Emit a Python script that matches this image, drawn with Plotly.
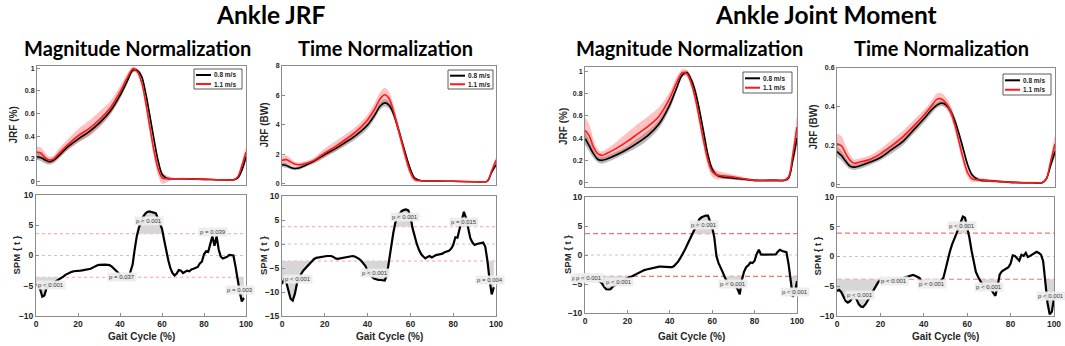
import plotly.graph_objects as go

W, H = 1065, 346

# ---------------- data ----------------
X_TOP = [0, 2, 4, 6, 8, 10, 15, 20, 25, 30, 35, 40, 43, 46, 48, 50, 52, 54, 56, 58,
         60, 62, 65, 70, 80, 90, 94, 96, 98, 100]

# Ankle JRF - magnitude normalization
P1_BLACK = [0.22, 0.21, 0.19, 0.175, 0.19, 0.22, 0.31, 0.38, 0.44, 0.52, 0.62, 0.77, 0.88, 0.985, 0.98, 0.93,
            0.78, 0.58, 0.37, 0.18, 0.06, 0.03, 0.025, 0.025, 0.02, 0.015, 0.015, 0.03, 0.1, 0.22]
P1_BLACK_SD = [0.03, 0.03, 0.03, 0.025, 0.025, 0.025, 0.025, 0.03, 0.03, 0.03, 0.03, 0.03, 0.025, 0.02, 0.015,
               0.02, 0.03, 0.035, 0.035, 0.03, 0.02, 0.01, 0.008, 0.008, 0.006, 0.006, 0.006, 0.01, 0.02, 0.03]
P1_RED = [0.26, 0.25, 0.21, 0.19, 0.2, 0.24, 0.33, 0.41, 0.47, 0.55, 0.65, 0.8, 0.91, 0.995, 0.97, 0.88,
          0.7, 0.48, 0.27, 0.11, 0.03, 0.025, 0.025, 0.025, 0.02, 0.015, 0.015, 0.04, 0.14, 0.26]
P1_RED_SD = [0.05, 0.05, 0.04, 0.03, 0.03, 0.04, 0.05, 0.06, 0.07, 0.07, 0.06, 0.05, 0.04, 0.02, 0.02, 0.04,
             0.05, 0.06, 0.06, 0.06, 0.05, 0.03, 0.01, 0.008, 0.006, 0.006, 0.006, 0.01, 0.03, 0.04]

# Ankle JRF - time normalization (BW)
P2_BLACK = [1.3, 1.25, 1.12, 1.05, 1.08, 1.2, 1.55, 2.0, 2.4, 2.85, 3.35, 4.0, 4.6, 5.3, 5.5, 5.35,
            4.8, 3.9, 2.9, 1.9, 1.0, 0.4, 0.22, 0.2, 0.18, 0.15, 0.15, 0.2, 0.8, 1.3]
P2_BLACK_SD = [0.15, 0.15, 0.12, 0.12, 0.12, 0.12, 0.15, 0.18, 0.2, 0.22, 0.25, 0.25, 0.25, 0.25, 0.25, 0.25,
               0.25, 0.25, 0.2, 0.2, 0.15, 0.08, 0.04, 0.03, 0.03, 0.03, 0.03, 0.05, 0.1, 0.15]
P2_RED = [1.6, 1.65, 1.5, 1.35, 1.3, 1.35, 1.6, 2.1, 2.55, 3.05, 3.6, 4.35, 5.0, 5.8, 6.05, 5.8,
          5.0, 3.9, 2.8, 1.7, 0.8, 0.3, 0.22, 0.2, 0.18, 0.15, 0.15, 0.2, 0.9, 1.6]
P2_RED_SD = [0.3, 0.3, 0.25, 0.15, 0.15, 0.15, 0.2, 0.3, 0.35, 0.35, 0.35, 0.35, 0.4, 0.45, 0.45, 0.45,
             0.4, 0.4, 0.4, 0.35, 0.3, 0.15, 0.05, 0.04, 0.03, 0.03, 0.03, 0.05, 0.15, 0.2]

# Ankle joint moment - magnitude normalization
P3_BLACK = [0.4, 0.33, 0.26, 0.21, 0.2, 0.21, 0.25, 0.3, 0.36, 0.43, 0.53, 0.7, 0.84, 0.97, 0.99, 0.93,
            0.82, 0.65, 0.45, 0.25, 0.12, 0.07, 0.05, 0.04, 0.02, 0.02, 0.02, 0.04, 0.2, 0.4]
P3_BLACK_SD = [0.06, 0.05, 0.04, 0.03, 0.03, 0.03, 0.03, 0.03, 0.04, 0.04, 0.04, 0.04, 0.03, 0.02, 0.02, 0.03,
               0.04, 0.04, 0.04, 0.03, 0.03, 0.02, 0.015, 0.015, 0.01, 0.01, 0.01, 0.02, 0.04, 0.06]
P3_RED = [0.47, 0.42, 0.32, 0.26, 0.245, 0.26, 0.31, 0.37, 0.44, 0.51, 0.6, 0.76, 0.89, 0.99, 0.98, 0.9,
          0.76, 0.57, 0.37, 0.2, 0.1, 0.07, 0.06, 0.05, 0.02, 0.02, 0.02, 0.05, 0.25, 0.5]
P3_RED_SD = [0.12, 0.1, 0.07, 0.04, 0.035, 0.04, 0.06, 0.08, 0.09, 0.09, 0.08, 0.06, 0.05, 0.03, 0.03, 0.04,
             0.05, 0.06, 0.06, 0.06, 0.05, 0.04, 0.03, 0.02, 0.01, 0.01, 0.01, 0.02, 0.06, 0.1]

# Ankle joint moment - time normalization (BW)
P4_BLACK = [0.17, 0.15, 0.12, 0.095, 0.09, 0.095, 0.115, 0.14, 0.18, 0.22, 0.28, 0.34, 0.38, 0.41, 0.42, 0.41,
            0.38, 0.33, 0.26, 0.18, 0.1, 0.05, 0.025, 0.02, 0.012, 0.01, 0.01, 0.03, 0.1, 0.17]
P4_BLACK_SD = [0.025, 0.025, 0.02, 0.015, 0.015, 0.015, 0.015, 0.015, 0.02, 0.02, 0.02, 0.02, 0.02, 0.015,
               0.015, 0.015, 0.02, 0.02, 0.02, 0.02, 0.015, 0.01, 0.008, 0.006, 0.005, 0.005, 0.005, 0.008,
               0.015, 0.025]
P4_RED = [0.21, 0.2, 0.16, 0.125, 0.11, 0.115, 0.13, 0.16, 0.2, 0.245, 0.3, 0.36, 0.4, 0.44, 0.44, 0.42,
          0.38, 0.31, 0.22, 0.13, 0.06, 0.03, 0.025, 0.02, 0.012, 0.01, 0.01, 0.03, 0.12, 0.21]
P4_RED_SD = [0.05, 0.05, 0.04, 0.03, 0.02, 0.02, 0.02, 0.025, 0.03, 0.03, 0.03, 0.025, 0.025, 0.03, 0.03,
             0.03, 0.03, 0.03, 0.03, 0.03, 0.025, 0.015, 0.01, 0.008, 0.006, 0.005, 0.005, 0.008, 0.02, 0.04]

# SPM{t} curves, one value per % of gait cycle (0..100)
GAIT = list(range(0, 101))
SPM1 = [-4.85, -5.0, -5.6, -6.8, -6.6, -5.4, -5.0, -4.8, -4.6, -4.4,
        -4.2, -4.0, -3.8, -3.5, -3.2, -3.0, -2.8, -2.7, -2.6, -2.6,
        -2.5, -2.5, -2.45, -2.4, -2.4, -2.3, -2.2, -2.0, -1.8, -1.65,
        -1.55, -1.5, -1.5, -1.5, -1.55, -1.6, -1.8, -2.1, -2.4, -2.8,
        -3.2, -3.6, -3.8, -3.9, -3.8, -2.8, -1.5, 1.0, 3.2, 4.6,
        5.6, 6.4, 6.9, 7.2, 7.3, 7.2, 7.1, 7.0, 6.2, 5.2,
        4.4, 2.6, 0.8, -0.8, -2.1, -2.9, -3.3, -3.0, -2.4, -2.5,
        -2.9, -2.7, -2.5, -2.6, -2.3, -2.2, -2.0, -1.9, -1.3, -1.0,
        0.2, 0.7, 0.6, 2.0, 3.2, 1.6, 3.2, 1.0, -0.2, -0.5,
        -0.4, -0.2, 0.1, 0.1, 0.0, -1.8, -4.0, -6.0, -7.6, -7.0,
        None]
SPM2 = [-8.3, -7.5, -8.0, -9.8, -11.4, -11.8, -10.4, -8.2, -7.0, -6.2,
        -5.5, -5.0, -4.6, -4.2, -3.5, -3.1, -2.9, -2.8, -2.7, -2.6,
        -2.5, -2.5, -2.5, -2.5, -2.7, -3.0, -3.1, -3.0, -3.0, -2.8,
        -2.7, -2.6, -2.5, -2.5, -2.6, -2.8, -3.1, -3.5, -4.0, -4.6,
        -5.6, -6.3, -6.8, -7.2, -7.4, -7.5, -7.5, -7.6, -7.6, -6.5,
        -3.2, -0.5, 2.3, 4.5, 5.7, 6.3, 6.9, 7.1, 7.2, 7.0,
        5.8, 3.3, 1.5, 0.0, -1.2, -2.1, -2.6, -3.0, -2.7, -2.5,
        -2.8, -2.5, -2.3, -2.2, -2.1, -2.0, -1.7, -1.5, -1.4, -1.0,
        -0.2, 1.4, 1.3, 3.2, 5.2, 6.7, 5.4, 3.0, 1.2, 0.3,
        -0.2, 0.0, 0.1, 0.2, 0.3, -0.6, -3.5, -7.5, -10.5, -9.0,
        None]
SPM3 = [-4.1, -4.1, -4.2, -4.2, -4.3, -4.3, -4.4, -4.6, -4.9, -5.5,
        -5.9, -5.95, -5.9, -5.5, -5.2, -5.0, -4.8, -4.6, -4.4, -4.15,
        -3.95, -3.8, -3.7, -3.5, -3.3, -3.1, -2.9, -2.75, -2.6, -2.5,
        -2.4, -2.3, -2.2, -2.1, -2.0, -2.0, -2.0, -2.05, -2.05, -2.1,
        -2.1, -2.1, -1.9, -1.5, -1.1, -0.5, 0.1, 0.8, 1.6, 2.4,
        3.2, 3.8, 4.5, 5.4, 6.2, 6.5, 6.7, 6.8, 6.8, 5.9,
        4.8, 3.0, -0.2, -1.4, -2.1, -3.0, -3.9, -4.6, -4.8, -5.0,
        -5.2, -5.4, -5.9, -6.8, -4.3, -2.9, -2.1, -1.8, -1.3, -1.4,
        -1.0, 0.2, 0.9, 0.1, 0.05, 0.05, 0.05, 0.05, 0.05, 0.05,
        0.1, 0.6, 0.9, 0.7, 0.55, 0.5, -1.5, -4.0, -7.2, -6.5,
        -4.5]
SPM4 = [-5.8, -5.6, -6.0, -6.8, -7.5, -7.75, -7.5, -7.0, -6.8, -7.2,
        -8.0, -8.4, -8.5, -8.1, -7.6, -6.9, -6.2, -5.5, -4.8, -4.3,
        -4.0, -4.1, -4.2, -4.2, -4.1, -4.0, -4.0, -3.9, -3.9, -3.8,
        -3.7, -3.6, -3.5, -3.4, -3.2, -3.1, -3.25, -3.4, -3.6, -4.2,
        -4.5, -4.6, -4.6, -4.6, -4.5, -4.5, -4.4, -4.3, -4.0, -3.6,
        -2.2, -0.6, 0.8, 2.0, 2.8, 3.8, 4.8, 5.9, 6.7, 6.5,
        5.1, 3.2, 1.0, -1.0, -2.6, -3.4, -4.0, -4.7, -5.0, -5.2,
        -5.3, -5.5, -6.1, -6.6, -5.0, -3.0, -2.5, -2.3, -2.0, -1.8,
        -1.2, 0.2, 0.1, -0.3, -0.7, 0.3, 0.1, 0.6, -0.1, 0.1,
        0.3, 0.6, 0.8, 0.6, 0.3, -0.8, -4.0, -7.8, -9.7, -9.3,
        -7.0]

# critical thresholds (upper, lower)
THRESH1 = [3.6, -3.6]
THRESH2 = [3.6, -3.55]
THRESH3 = [3.68, -3.68]
THRESH4 = [3.93, -3.82]

# p-value labels: (text, gait %, SPM value)
PLAB1 = [("p < 0.001", 7, -4.8), ("p = 0.037", 41, -3.6), ("p < 0.001", 54, 5.7),
         ("p = 0.039", 84.5, 3.85), ("p = 0.003", 97, -5.7)]
PLAB2 = [("p < 0.001", 7.3, -7.2), ("p < 0.001", 43.6, -6.1), ("p < 0.001", 57.3, 5.7),
         ("p = 0.015", 85, 4.6), ("p = 0.004", 97.4, -7.5)]
PLAB3 = [("p = 0.040", 0.0, -4.0), ("p < 0.001", 2.0, -4.0), ("p < 0.001", 15.9, -4.65),
         ("p < 0.001", 56, 5.1), ("p < 0.001", 70, -5.0), ("p < 0.001", 99, -6.3)]
PLAB4 = [("p < 0.001", 10.7, -6.5), ("p < 0.001", 26.3, -4.1), ("p < 0.001", 43.6, -4.7),
         ("p < 0.001", 57.7, 5.2), ("p < 0.001", 70, -5.2), ("p < 0.001", 98.5, -6.7)]

LEGEND_NAMES = ["0.8 m/s", "1.1 m/s"]
GROUP_TITLES = ["Ankle JRF", "Ankle Joint Moment"]
PANEL_TITLES = ["Magnitude Normalization", "Time Normalization",
                "Magnitude Normalization", "Time Normalization"]
TOP_YTITLES = ["JRF (%)", "JRF (BW)", "JRF (%)", "JRF (BW)"]
TOP_YTICKS = [[0, 0.2, 0.4, 0.6, 0.8, 1], [0, 2, 4, 6, 8], [0, 0.2, 0.4, 0.6, 0.8, 1], [0, 0.2, 0.4, 0.6]]
BOT_YTICKS = [[-10, -5, 0, 5, 10], [-15, -10, -5, 0, 5, 10], [-10, -5, 0, 5, 10], [-10, -5, 0, 5, 10]]
XTICKS = [0, 20, 40, 60, 80, 100]

# ---------------- layout geometry (pixels) ----------------
TOP_DOM = [((37, 246), (66, 185)), ((282, 496), (66, 185)), ((585, 797), (67, 187)), ((837, 1055), (68, 187))]
BOT_DOM = [((36, 246), (195, 316)), ((282, 496), (196, 316)), ((585, 797), (197, 313)), ((837, 1054), (197, 316))]
TOP_RANGE = [[-0.03, 1.02], [-0.07, 8.0], [-0.04, 1.04], [-0.012, 0.6]]
BOT_RANGE = [[-10, 10], [-15, 10], [-10, 10], [-10, 10]]
LEG_BOX = [(194, 242, 69, 89), (448, 493, 70, 89), (743, 792, 72, 93), (1003, 1051, 74, 95)]
TOP_YT_X = [13, 264, 563, 813]
BOT_YT_X = [16, 263, 567, 817]
TITLE_X = [137, 385, 689, 941]
GROUP_X = [271, 826]


def fx(px):
    return px / W


def fy(py):
    return 1 - py / H


TOP_DATA = [(P1_BLACK, P1_BLACK_SD, P1_RED, P1_RED_SD), (P2_BLACK, P2_BLACK_SD, P2_RED, P2_RED_SD),
            (P3_BLACK, P3_BLACK_SD, P3_RED, P3_RED_SD), (P4_BLACK, P4_BLACK_SD, P4_RED, P4_RED_SD)]
SPMS = [SPM1, SPM2, SPM3, SPM4]
THRS = [THRESH1, THRESH2, THRESH3, THRESH4]
PLABS = [PLAB1, PLAB2, PLAB3, PLAB4]


def clusters(xs, ys, thr, upper):
    def inside(v):
        return v > thr if upper else v < thr
    out, seg = [], []
    px = py = None
    for x, y in zip(xs, ys):
        if y is None:
            if seg:
                out.append(seg)
                seg = []
            px = py = None
            continue
        if py is not None and inside(y) != inside(py):
            xc = px + (thr - py) * (x - px) / (y - py)
            seg.append((xc, thr))
            if not inside(y):
                out.append(seg)
                seg = []
        if inside(y):
            seg.append((x, y))
        px, py = x, y
    if seg:
        out.append(seg)
    return out


fig = go.Figure()
layout = dict(width=W, height=H, margin=dict(l=0, r=0, t=0, b=0),
              paper_bgcolor="white", plot_bgcolor="white", showlegend=False)
shapes, annos = [], []
TICKFONT_TOP = dict(family="Liberation Sans, Arial", size=7, color="#262626", weight="bold")
TICKFONT_BOT = dict(family="Liberation Sans, Arial", size=8.5, color="#262626", weight="bold")


def axis_common():
    return dict(showgrid=False, zeroline=False, showline=True, linecolor="#8c8c8c", linewidth=1,
                mirror=True, ticks="inside", ticklen=3, tickcolor="#8c8c8c", automargin=False)


def anno(**kw):
    d = dict(showarrow=False, xanchor="center", yanchor="middle")
    d.update(kw)
    return d


for i in range(4):
    t = i + 1
    b = i + 5
    xt = "x" if t == 1 else f"x{t}"
    yt = "y" if t == 1 else f"y{t}"
    xb, yb = f"x{b}", f"y{b}"
    (xd, yd) = TOP_DOM[i]
    xa = axis_common()
    xa.update(domain=[fx(xd[0]), fx(xd[1])], range=[0, 100], showticklabels=False, ticks="", anchor=yt)
    ya = axis_common()
    ya.update(domain=[fy(yd[1]), fy(yd[0])], range=TOP_RANGE[i], tickvals=TOP_YTICKS[i],
              tickfont=TICKFONT_TOP, anchor=xt)
    layout["xaxis" if t == 1 else f"xaxis{t}"] = xa
    layout["yaxis" if t == 1 else f"yaxis{t}"] = ya
    (xd, yd) = BOT_DOM[i]
    xa = axis_common()
    xa.update(domain=[fx(xd[0]), fx(xd[1])], range=[0, 100], tickvals=XTICKS, tickfont=TICKFONT_BOT, anchor=yb)
    ya = axis_common()
    ya.update(domain=[fy(yd[1]), fy(yd[0])], range=BOT_RANGE[i], tickvals=BOT_YTICKS[i],
              tickfont=TICKFONT_BOT, anchor=xb)
    layout[f"xaxis{b}"] = xa
    layout[f"yaxis{b}"] = ya

    # ---- top panel: bands and means
    blk, blk_sd, red, red_sd = TOP_DATA[i]
    for mean, sd, col in [(blk, blk_sd, "rgba(105,105,105,0.45)"), (red, red_sd, "rgba(255,80,80,0.35)")]:
        up = [m + s for m, s in zip(mean, sd)]
        lo = [m - s for m, s in zip(mean, sd)]
        fig.add_trace(go.Scatter(x=X_TOP + X_TOP[::-1], y=up + lo[::-1], fill="toself", fillcolor=col,
                                 mode="lines", line=dict(width=0, shape="spline"), hoverinfo="skip",
                                 xaxis=xt, yaxis=yt))
    fig.add_trace(go.Scatter(x=X_TOP, y=blk, mode="lines", name=LEGEND_NAMES[0],
                             line=dict(color="black", width=1.6, shape="spline"), xaxis=xt, yaxis=yt))
    fig.add_trace(go.Scatter(x=X_TOP, y=red, mode="lines", name=LEGEND_NAMES[1],
                             line=dict(color="#ff1a1a", width=1.6, shape="spline"), xaxis=xt, yaxis=yt))

    # ---- bottom panel: SPM
    spm = SPMS[i]
    thr_u, thr_l = THRS[i]
    for thr, upper in [(thr_u, True), (thr_l, False)]:
        for seg in clusters(GAIT, spm, thr, upper):
            px_ = [seg[0][0]] + [p[0] for p in seg] + [seg[-1][0]]
            py_ = [thr] + [p[1] for p in seg] + [thr]
            fig.add_trace(go.Scatter(x=px_, y=py_, fill="toself", fillcolor="#d6d6d6", mode="lines",
                                     line=dict(width=0), hoverinfo="skip", xaxis=xb, yaxis=yb))
    if i < 2:
        tline = dict(color="#ff9c9c", width=1, dash="dot")
    else:
        tline = dict(color="rgba(245,90,90,0.85)", width=1.1, dash="5px,3px")
    for thr in THRS[i]:
        shapes.append(dict(type="line", xref=xb, yref=yb, x0=0, x1=100, y0=thr, y1=thr, line=tline, layer="below"))
    shapes.append(dict(type="line", xref=xb, yref=yb, x0=0, x1=100, y0=0, y1=0,
                       line=dict(color="#c8c8c8", width=1, dash="dot"), layer="below"))
    fig.add_trace(go.Scatter(x=GAIT, y=spm, mode="lines", line=dict(color="black", width=2.2),
                             connectgaps=False, xaxis=xb, yaxis=yb))
    for txt, gx, gy in PLABS[i]:
        annos.append(anno(text=txt, x=gx, y=gy, xref=xb, yref=yb,
                          font=dict(family="Liberation Sans, Arial", size=6, color="#3a3a3a"),
                          bgcolor="rgba(236,236,236,0.95)", borderpad=1))

    # ---- manual legend
    x0, x1, y0, y1 = LEG_BOX[i]
    shapes.append(dict(type="rect", xref="paper", yref="paper", x0=fx(x0), x1=fx(x1), y0=fy(y1), y1=fy(y0),
                       line=dict(color="#333333", width=0.8), fillcolor="white"))
    ym = [y0 + (y1 - y0) * 0.3, y0 + (y1 - y0) * 0.75]
    for k, col in enumerate(["black", "#ff1a1a"]):
        shapes.append(dict(type="line", xref="paper", yref="paper", x0=fx(x0 + 2), x1=fx(x0 + 17),
                           y0=fy(ym[k]), y1=fy(ym[k]), line=dict(color=col, width=2)))
        annos.append(anno(text="<b>%s</b>" % LEGEND_NAMES[k], x=fx(x0 + 18), y=fy(ym[k]), xref="paper",
                          yref="paper", xanchor="left",
                          font=dict(family="Liberation Sans, Arial", size=6.5, color="#222")))

    # ---- axis titles
    annos.append(anno(text="<b>%s</b>" % TOP_YTITLES[i], x=fx(TOP_YT_X[i]),
                      y=fy((TOP_DOM[i][1][0] + TOP_DOM[i][1][1]) / 2),
                      xref="paper", yref="paper", textangle=-90,
                      font=dict(family="Liberation Sans, Arial", size=10, color="#262626")))
    annos.append(anno(text="<b>SPM { t }</b>", x=fx(BOT_YT_X[i]),
                      y=fy((BOT_DOM[i][1][0] + BOT_DOM[i][1][1]) / 2),
                      xref="paper", yref="paper", textangle=-90,
                      font=dict(family="Liberation Sans, Arial", size=9.5, color="#262626")))
    annos.append(anno(text="<b>Gait Cycle (%)</b>", x=fx((BOT_DOM[i][0][0] + BOT_DOM[i][0][1]) / 2), y=fy(336),
                      xref="paper", yref="paper",
                      font=dict(family="Liberation Sans, Arial", size=10, color="#262626")))
    annos.append(anno(text="<b>%s</b>" % PANEL_TITLES[i], x=fx(TITLE_X[i]), y=fy(48), xref="paper", yref="paper",
                      font=dict(family="Lato", size=20, color="black")))

for g in range(2):
    annos.append(anno(text="<b>%s</b>" % GROUP_TITLES[g], x=fx(GROUP_X[g]), y=fy(15), xref="paper", yref="paper",
                      font=dict(family="Lato", size=24.5, color="black")))

layout["shapes"] = shapes
layout["annotations"] = annos
fig.update_layout(**layout)
fig.write_html("out.html", config={"displayModeBar": False},
               post_script="document.body.style.margin='0';")
